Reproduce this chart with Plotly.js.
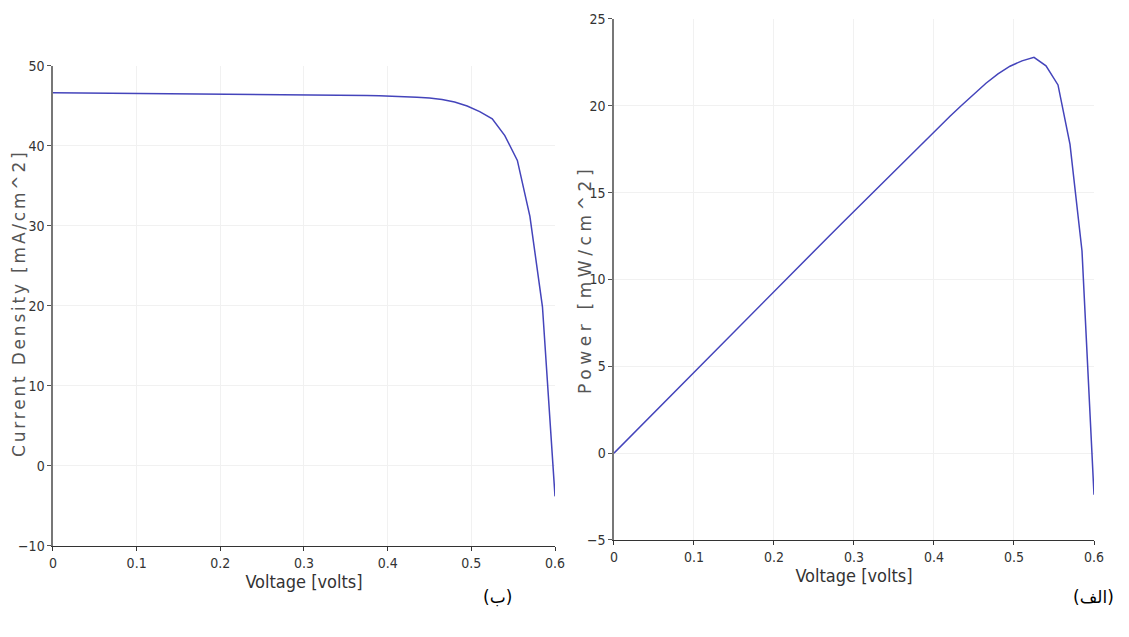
<!DOCTYPE html>
<html>
<head>
<meta charset="utf-8">
<script src="https://cdn.plot.ly/plotly-3.0.1.min.js"></script>
<style>html,body{margin:0;padding:0;background:#fff;}#chart{width:1129px;height:637px;}</style>
</head>
<body>
<div id="chart"></div>
<script>
// Voltage samples [volts]
const voltage = [0.000,0.015,0.030,0.045,0.060,0.075,0.090,0.105,0.120,0.135,
  0.150,0.165,0.180,0.195,0.210,0.225,0.240,0.255,0.270,0.285,
  0.300,0.315,0.330,0.345,0.360,0.375,0.390,0.405,0.420,0.435,
  0.450,0.465,0.480,0.495,0.510,0.525,0.540,0.555,0.570,0.585,0.600];
// Current density [mA/cm^2]
const currentDensity = [46.65,46.64,46.63,46.62,46.61,46.60,46.59,46.58,46.57,46.56,
  46.55,46.54,46.53,46.52,46.51,46.50,46.49,46.48,46.47,46.46,
  46.44,46.42,46.40,46.38,46.35,46.32,46.28,46.24,46.20,46.10,
  46.00,45.80,45.50,45.00,44.30,43.40,41.30,38.20,31.20,19.90,-3.80];
// Power [mW/cm^2]
const power = [0.00,0.70,1.40,2.10,2.80,3.50,4.19,4.89,5.59,6.29,
  6.98,7.68,8.38,9.07,9.77,10.46,11.16,11.85,12.55,13.24,
  13.93,14.62,15.31,16.00,16.69,17.37,18.05,18.73,19.40,20.05,
  20.70,21.30,21.84,22.28,22.59,22.79,22.30,21.20,17.78,11.64,-2.40];
const xTicks = [0,0.1,0.2,0.3,0.4,0.5,0.6];
const xTickText = ['0','0.1','0.2','0.3','0.4','0.5','0.6'];
const jTicks = [-10,0,10,20,30,40,50];
const pTicks = [-5,0,5,10,15,20,25];
const titles = {
  x: 'Voltage [volts]',
  j: 'Current Density [mA/cm^2]',
  p: 'Power [mW/cm^2]',
  left: '(ب)',
  right: '(الف)'
};

const lineStyle = {color:'#4444bb', width:1.5};
const narrow = 'DejaVu Sans Condensed, Liberation Sans Narrow, sans-serif';
const wide = 'DejaVu Sans, Verdana, sans-serif';

const data = [
  {x: voltage, y: currentDensity, type:'scatter', mode:'lines', line: lineStyle, xaxis:'x', yaxis:'y', hoverinfo:'x+y'},
  {x: voltage, y: power, type:'scatter', mode:'lines', line: lineStyle, xaxis:'x2', yaxis:'y2', hoverinfo:'x+y'}
];

function xAxis(domain, anchor){
  return {
    domain: domain, anchor: anchor, range:[0,0.6],
    tickmode:'array', tickvals:xTicks, ticktext:xTickText,
    ticks:'outside', ticklen:4, tickcolor:'#333', tickwidth:1,
    showline:true, linecolor:'#333', linewidth:1.5,
    showgrid:true, gridcolor:'#f1f1f1', gridwidth:1, zeroline:false,
    tickfont:{family:narrow, size:14, color:'#333'},
    title:{text:titles.x, font:{family:narrow, size:18, color:'#333'}, standoff:2},
    automargin:false
  };
}
function yAxis(domain, anchor, range, ticks){
  return {
    domain: domain, anchor: anchor, range: range,
    tickmode:'array', tickvals:ticks,
    ticks:'outside', ticklen:4, tickcolor:'#555', tickwidth:1,
    showline:true, linecolor:'#777', linewidth:1.5,
    showgrid:true, gridcolor:'#f1f1f1', gridwidth:1, zeroline:false,
    tickfont:{family:narrow, size:14, color:'#333'},
    automargin:false
  };
}

function spaced(t, s){ return '<span style="letter-spacing:' + s + 'px">' + t + '</span>'; }

const layout = {
  width:1129, height:637,
  margin:{l:0, r:0, t:0, b:0},
  paper_bgcolor:'#ffffff', plot_bgcolor:'#ffffff',
  showlegend:false,
  xaxis: xAxis([0.0469,0.4916],'y'),
  yaxis: yAxis([0.1429,0.8964],'x',[-10,50],jTicks),
  xaxis2: xAxis([0.5438,0.9690],'y2'),
  yaxis2: yAxis([0.1523,0.9702],'x2',[-5,25],pTicks),
  annotations: [
    {text:spaced(titles.j, 2.8), xref:'paper', yref:'paper', x:19/1129, y:1-304/637, textangle:-90,
     showarrow:false, xanchor:'center', yanchor:'middle', font:{family:wide, size:17, color:'#555'}},
    {text:spaced(titles.p, 4.6), xref:'paper', yref:'paper', x:585/1129, y:1-280/637, textangle:-90,
     showarrow:false, xanchor:'center', yanchor:'middle', font:{family:wide, size:17, color:'#555'}},
    {text:titles.left, xref:'paper', yref:'paper', x:497/1129, y:1-597/637,
     showarrow:false, xanchor:'center', yanchor:'middle', font:{family:'DejaVu Sans, sans-serif', size:17, color:'#000'}},
    {text:titles.right, xref:'paper', yref:'paper', x:1093/1129, y:1-597/637,
     showarrow:false, xanchor:'center', yanchor:'middle', font:{family:'DejaVu Sans, sans-serif', size:17, color:'#000'}}
  ]
};

Plotly.newPlot('chart', data, layout, {displayModeBar:false, staticPlot:true});
</script>
</body>
</html>
